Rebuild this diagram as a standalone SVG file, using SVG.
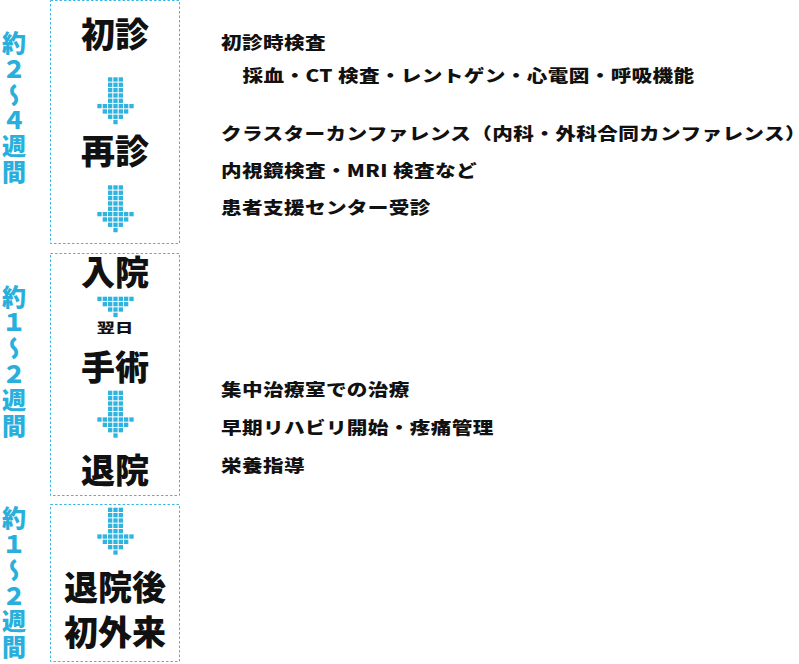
<svg xmlns="http://www.w3.org/2000/svg" xmlns:xlink="http://www.w3.org/1999/xlink" width="799" height="664" viewBox="0 0 799 664">
<style>
.box{fill:none;stroke:#3db7e1;stroke-width:1;stroke-dasharray:2.5 2}
.sq{fill:#2fb3df}
.node{font-family:"Noto Sans CJK JP","Noto Sans",sans-serif;font-weight:900;font-size:34px;fill:#111;text-anchor:middle}
.small{font-family:"Noto Sans CJK JP","Noto Sans",sans-serif;font-weight:900;font-size:13px;fill:#111;text-anchor:middle}
.period{font-family:"Noto Sans CJK JP","Noto Sans",sans-serif;font-weight:900;font-size:24px;fill:#2aafdc;writing-mode:vertical-rl;letter-spacing:1.8px}
.r{font-family:"Noto Sans CJK JP","Noto Sans",sans-serif;font-weight:900;font-size:16.5px;fill:#111;letter-spacing:0.3px}
.halt{font-feature-settings:"halt"}
</style>
<defs>
<g id="head">
<rect class="sq" x="-18.15" y="0" width="4.3" height="4.3"/>
<rect class="sq" x="-12.82" y="0" width="4.3" height="4.3"/>
<rect class="sq" x="-7.48" y="0" width="4.3" height="4.3"/>
<rect class="sq" x="-2.15" y="0" width="4.3" height="4.3"/>
<rect class="sq" x="3.18" y="0" width="4.3" height="4.3"/>
<rect class="sq" x="8.52" y="0" width="4.3" height="4.3"/>
<rect class="sq" x="13.85" y="0" width="4.3" height="4.3"/>
<rect class="sq" x="-12.82" y="5.33" width="4.3" height="4.3"/>
<rect class="sq" x="-7.48" y="5.33" width="4.3" height="4.3"/>
<rect class="sq" x="-2.15" y="5.33" width="4.3" height="4.3"/>
<rect class="sq" x="3.18" y="5.33" width="4.3" height="4.3"/>
<rect class="sq" x="8.52" y="5.33" width="4.3" height="4.3"/>
<rect class="sq" x="-7.48" y="10.67" width="4.3" height="4.3"/>
<rect class="sq" x="-2.15" y="10.67" width="4.3" height="4.3"/>
<rect class="sq" x="3.18" y="10.67" width="4.3" height="4.3"/>
<rect class="sq" x="-2.15" y="16" width="4.3" height="4.3"/>
</g>
<g id="arrow">
<rect class="sq" x="-7.48" y="0" width="4.3" height="4.3"/>
<rect class="sq" x="-2.15" y="0" width="4.3" height="4.3"/>
<rect class="sq" x="3.18" y="0" width="4.3" height="4.3"/>
<rect class="sq" x="-7.48" y="5.33" width="4.3" height="4.3"/>
<rect class="sq" x="-2.15" y="5.33" width="4.3" height="4.3"/>
<rect class="sq" x="3.18" y="5.33" width="4.3" height="4.3"/>
<rect class="sq" x="-7.48" y="10.67" width="4.3" height="4.3"/>
<rect class="sq" x="-2.15" y="10.67" width="4.3" height="4.3"/>
<rect class="sq" x="3.18" y="10.67" width="4.3" height="4.3"/>
<rect class="sq" x="-7.48" y="16" width="4.3" height="4.3"/>
<rect class="sq" x="-2.15" y="16" width="4.3" height="4.3"/>
<rect class="sq" x="3.18" y="16" width="4.3" height="4.3"/>
<rect class="sq" x="-7.48" y="21.33" width="4.3" height="4.3"/>
<rect class="sq" x="-2.15" y="21.33" width="4.3" height="4.3"/>
<rect class="sq" x="3.18" y="21.33" width="4.3" height="4.3"/>
<use xlink:href="#head" href="#head" y="26.67"/>
</g>
</defs>

<g id="stage-boxes">
<rect class="box" x="50.5" y="0.5" width="129" height="243"/>
<rect class="box" x="50.5" y="253.5" width="129" height="242"/>
<rect class="box" x="50.5" y="504.5" width="129" height="157"/>
</g>

<g id="period-labels">
<text class="period" x="14" y="31">約２〜４週間</text>
<text class="period" x="14" y="284.5">約１〜２週間</text>
<text class="period" x="14" y="506">約１〜２週間</text>
</g>

<g id="connectors">
<use xlink:href="#arrow" href="#arrow" x="115.5" y="77.3"/>
<use xlink:href="#arrow" href="#arrow" x="115.5" y="185.3"/>
<use xlink:href="#head" href="#head" x="115.5" y="296.7"/>
<use xlink:href="#arrow" href="#arrow" x="115.5" y="390.7"/>
<use xlink:href="#arrow" href="#arrow" x="115.5" y="507.7"/>
</g>

<g id="node-shoshin"><text class="node" x="115" y="46.9">初診</text></g>
<g id="node-saishin"><text class="node" x="115" y="163.9">再診</text></g>
<g id="node-nyuin"><text class="node" x="115" y="285.4">入院</text></g>
<g id="node-yokujitsu"><text class="small" transform="translate(115 331.9) scale(1.4 1)">翌日</text></g>
<g id="node-shujutsu"><text class="node" x="115" y="379.6">手術</text></g>
<g id="node-taiin"><text class="node" x="115" y="482.9">退院</text></g>
<g id="node-gairai"><text class="node" x="115" y="599.6">退院後</text><text class="node" x="115" y="644.6">初外来</text></g>

<g id="notes">
<text class="r" transform="translate(221 48.8) scale(1.25 1)">初診時検査</text>
<text class="r" transform="translate(242.5 81.8) scale(1.25 1)">採血・CT 検査・レントゲン・心電図・呼吸機能</text>
<text class="r" transform="translate(221 140.3) scale(1.25 1)">クラスターカンファレンス（内科・外科合同カンファレンス<tspan class="halt">）</tspan></text>
<text class="r" transform="translate(221 177.3) scale(1.25 1)">内視鏡検査・MRI 検査など</text>
<text class="r" transform="translate(221 214.3) scale(1.25 1)">患者支援センター受診</text>
<text class="r" transform="translate(221 396.3) scale(1.25 1)">集中治療室での治療</text>
<text class="r" transform="translate(221 434.3) scale(1.25 1)">早期リハビリ開始・疼痛管理</text>
<text class="r" transform="translate(221 472.3) scale(1.25 1)">栄養指導</text>
</g>
</svg>
